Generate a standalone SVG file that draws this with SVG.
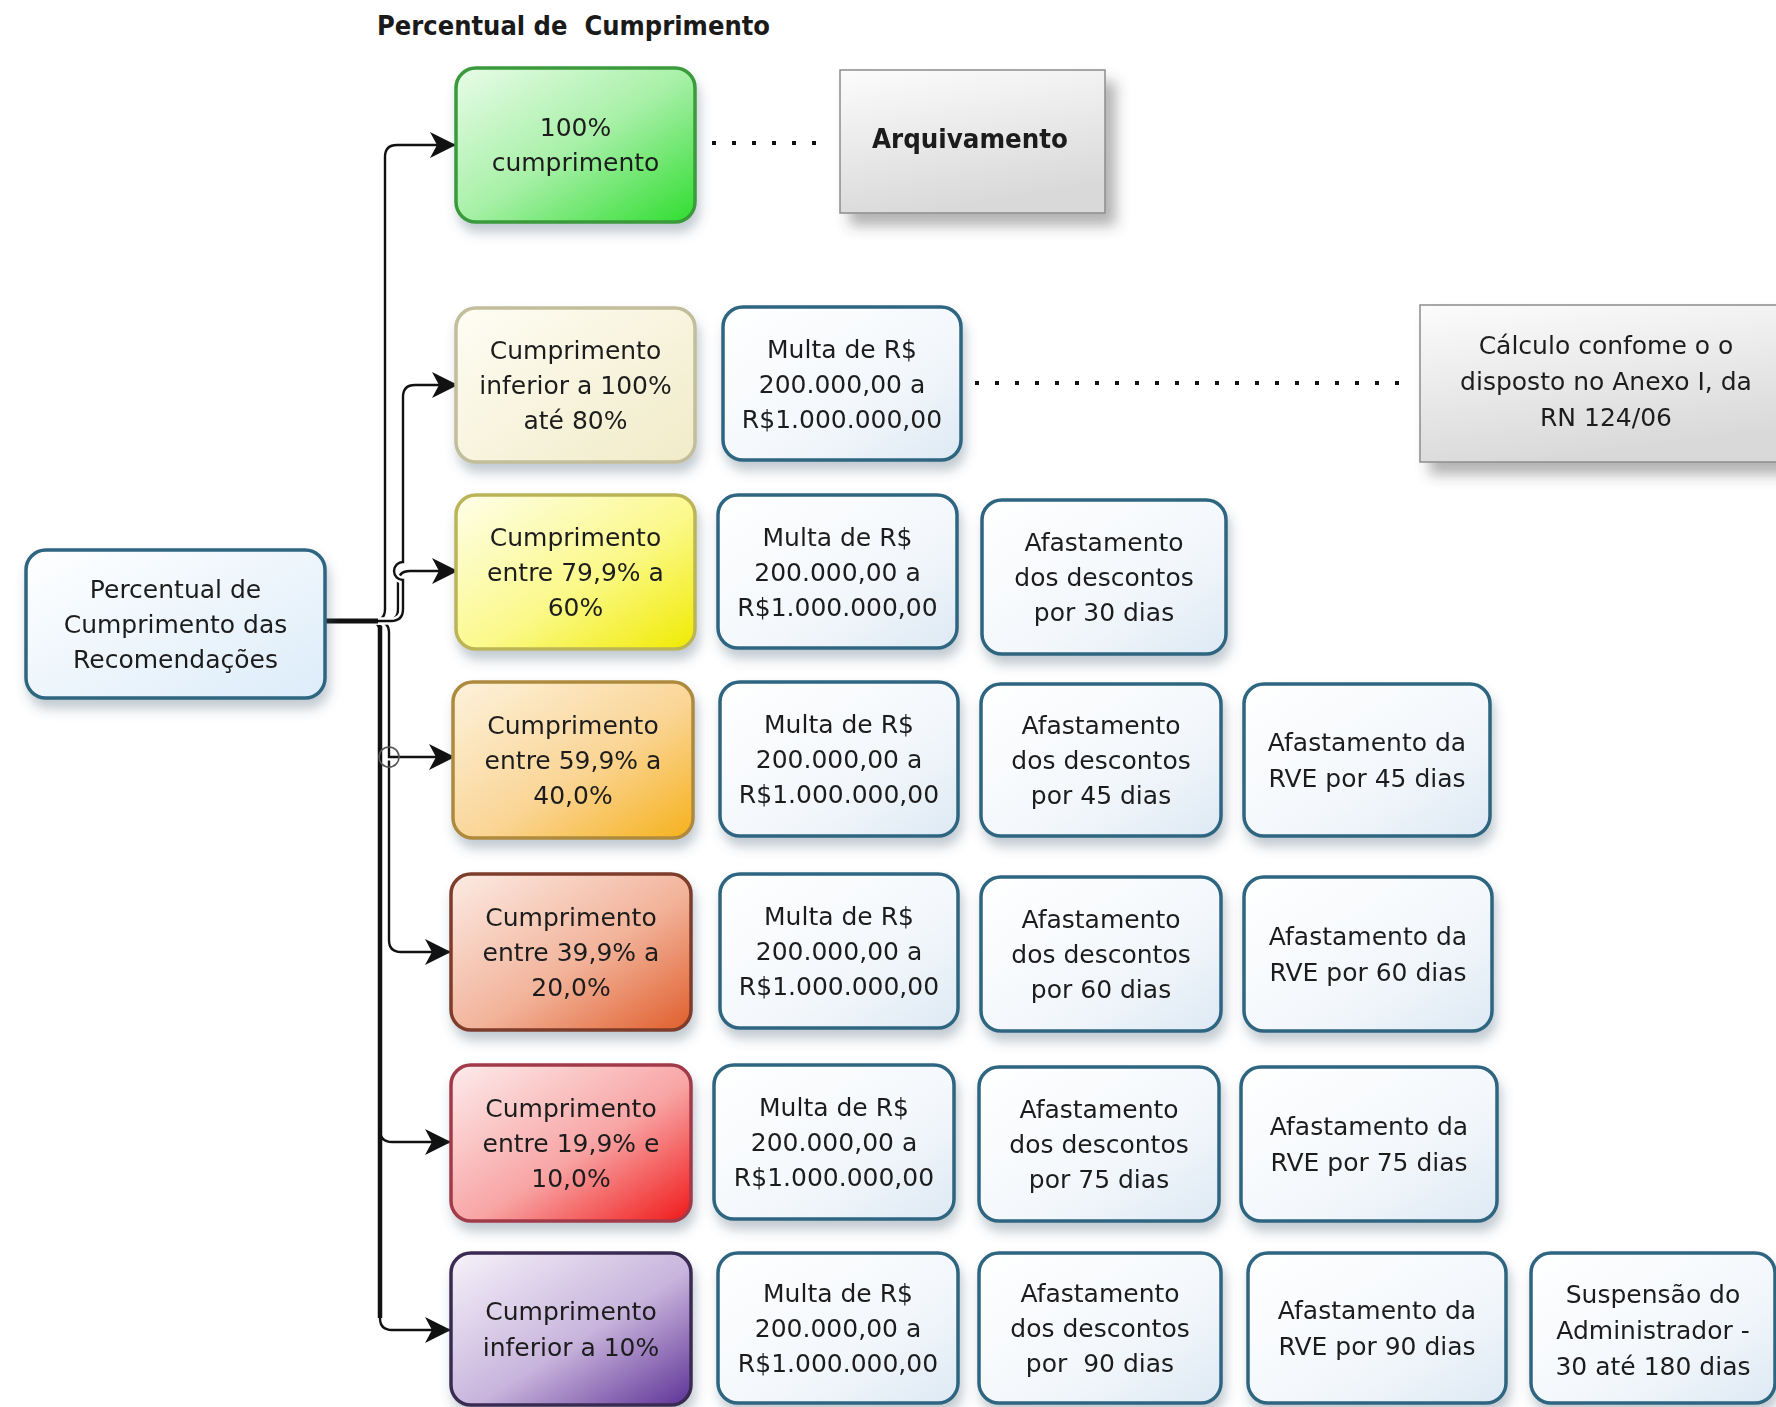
<svg xmlns="http://www.w3.org/2000/svg" width="1776" height="1407" viewBox="0 0 1776 1407">
  <defs>
    <style>
      .t { font-family: "DejaVu Sans", "Liberation Sans", sans-serif; font-size: 25px; fill: #1e1e1e; text-anchor: middle; }
      .tb { font-family: "DejaVu Sans", "Liberation Sans", sans-serif; font-weight: bold; font-size: 26px; fill: #1a1a1a; }
      .pen { fill: url(#gPen); stroke: #2e6580; stroke-width: 3.5; }
      .lvl { stroke-width: 3.5; }
      .note { fill: url(#gGray); stroke: #8c8c8c; stroke-width: 1.5; }
      .halo { fill: none; stroke: #ffffff; stroke-width: 7; }
      .wire { fill: none; stroke: #111111; stroke-width: 2.4; }
      .dots { fill: none; stroke: #111111; stroke-width: 4; stroke-dasharray: 4 16; }
    </style>
    <linearGradient id="gPen" x1="0" y1="0" x2="1" y2="1">
      <stop offset="0" stop-color="#ffffff"/>
      <stop offset="0.6" stop-color="#f3f7fb"/>
      <stop offset="1" stop-color="#dde9f4"/>
    </linearGradient>
    <linearGradient id="gSrc" x1="0" y1="0" x2="1" y2="1">
      <stop offset="0" stop-color="#ffffff"/>
      <stop offset="1" stop-color="#dcecf9"/>
    </linearGradient>
    <linearGradient id="gGray" x1="0" y1="0" x2="0.3" y2="1">
      <stop offset="0" stop-color="#fcfcfc"/>
      <stop offset="1" stop-color="#d9d9d9"/>
    </linearGradient>
    <linearGradient id="gGreen" x1="0" y1="0" x2="1" y2="1">
      <stop offset="0" stop-color="#e8fce8"/>
      <stop offset="0.5" stop-color="#a8f0a8"/>
      <stop offset="1" stop-color="#30dd30"/>
    </linearGradient>
    <linearGradient id="gCream" x1="0" y1="0" x2="1" y2="1">
      <stop offset="0" stop-color="#fefdf4"/>
      <stop offset="1" stop-color="#f1ebc8"/>
    </linearGradient>
    <linearGradient id="gYellow" x1="0" y1="0" x2="1" y2="1">
      <stop offset="0" stop-color="#fefeea"/>
      <stop offset="0.55" stop-color="#fbf98a"/>
      <stop offset="1" stop-color="#f0ea00"/>
    </linearGradient>
    <linearGradient id="gOrange" x1="0" y1="0" x2="1" y2="1">
      <stop offset="0" stop-color="#fdf2dc"/>
      <stop offset="0.55" stop-color="#fad596"/>
      <stop offset="1" stop-color="#f6b11c"/>
    </linearGradient>
    <linearGradient id="gRust" x1="0" y1="0" x2="1" y2="1">
      <stop offset="0" stop-color="#fcebe4"/>
      <stop offset="0.55" stop-color="#f2b39a"/>
      <stop offset="1" stop-color="#e05e2c"/>
    </linearGradient>
    <linearGradient id="gRed" x1="0" y1="0" x2="1" y2="1">
      <stop offset="0" stop-color="#fdecec"/>
      <stop offset="0.55" stop-color="#f8a4a4"/>
      <stop offset="1" stop-color="#f01818"/>
    </linearGradient>
    <linearGradient id="gPurple" x1="0" y1="0" x2="1" y2="1">
      <stop offset="0" stop-color="#f6f2fa"/>
      <stop offset="0.55" stop-color="#c8b4dc"/>
      <stop offset="1" stop-color="#5e3296"/>
    </linearGradient>
    <filter id="sh" x="-10%" y="-10%" width="130%" height="140%">
      <feGaussianBlur in="SourceAlpha" stdDeviation="6"/>
      <feOffset dx="3" dy="9" result="b"/>
      <feFlood flood-color="#50687c" flood-opacity="0.35"/>
      <feComposite in2="b" operator="in"/>
      <feMerge><feMergeNode/><feMergeNode in="SourceGraphic"/></feMerge>
    </filter>
    <filter id="shBig" x="-10%" y="-10%" width="130%" height="150%">
      <feGaussianBlur in="SourceAlpha" stdDeviation="7"/>
      <feOffset dx="10" dy="12" result="b"/>
      <feFlood flood-color="#404040" flood-opacity="0.4"/>
      <feComposite in2="b" operator="in"/>
      <feMerge><feMergeNode/><feMergeNode in="SourceGraphic"/></feMerge>
    </filter>
    <marker id="arr" viewBox="0 0 26 26" refX="26" refY="13" markerWidth="26" markerHeight="26" markerUnits="userSpaceOnUse" orient="auto">
      <path d="M0,0 L26,13 L0,26 L7,13 Z" fill="#111111"/>
    </marker>
  </defs>

  <rect x="0" y="0" width="1776" height="1407" fill="#ffffff"/>

  <!-- heading -->
  <text class="tb" x="377" y="35" textLength="393" lengthAdjust="spacingAndGlyphs" xml:space="preserve">Percentual de  Cumprimento</text>

  <!-- connectors: source to each compliance level, plus dotted notes -->
  <g id="connectors">
    <line x1="325" y1="621" x2="380" y2="621" stroke="#111111" stroke-width="5"/>
    <path class="halo" d="M325,621 H373 Q385,621 385,609 V157 Q385,145 397,145 H456"/>
    <path class="wire" marker-end="url(#arr)" d="M325,621 H373 Q385,621 385,609 V157 Q385,145 397,145 H456"/>
    <path class="halo" d="M325,621 H368 Q380,621 380,633 V1318 Q380,1330 392,1330 H451"/>
    <path class="wire" marker-end="url(#arr)" d="M325,621 H368 Q380,621 380,633 V1318 Q380,1330 392,1330 H451"/>
    <path class="halo" d="M325,621 H368 Q380,621 380,633 V1130 Q380,1142 392,1142 H451"/>
    <path class="wire" marker-end="url(#arr)" d="M325,621 H368 Q380,621 380,633 V1130 Q380,1142 392,1142 H451"/>
    <line x1="380" y1="621" x2="380" y2="1318" stroke="#111111" stroke-width="4.5"/>
    <path class="halo" d="M325,621 H377 Q389,621 389,633 V940 Q389,952 401,952 H451"/>
    <path class="wire" marker-end="url(#arr)" d="M325,621 H377 Q389,621 389,633 V940 Q389,952 401,952 H451"/>
    <path class="halo" d="M389,700 V757 H455"/>
    <path class="wire" marker-end="url(#arr)" d="M389,700 V757 H455"/>
    <circle cx="389" cy="757" r="10" fill="none" stroke="#555555" stroke-width="1.6"/>
    <path class="halo" d="M325,621 H386 Q398,621 398,609 V583 Q398,571 410,571 H458"/>
    <path class="wire" marker-end="url(#arr)" d="M325,621 H386 Q398,621 398,609 V583 Q398,571 410,571 H458"/>
    <path class="halo" d="M325,621 H391 Q403,621 403,609 V580 A9,9 0 0 1 403,562 V397 Q403,385 415,385 H458"/>
    <path class="wire" marker-end="url(#arr)" d="M325,621 H391 Q403,621 403,609 V580 A9,9 0 0 1 403,562 V397 Q403,385 415,385 H458"/>
    <line x1="325" y1="621" x2="378" y2="621" stroke="#111111" stroke-width="5"/>
    <line class="dots" x1="712" y1="143" x2="826" y2="143"/>
    <line class="dots" x1="975" y1="383" x2="1414" y2="383"/>
  </g>

  <!-- source -->
  <g id="source" filter="url(#sh)">
    <rect x="26" y="550" width="299" height="148" rx="20" fill="url(#gSrc)" stroke="#2e6580" stroke-width="3.5"/>
    <text class="t" x="175.5"><tspan x="175.5" y="598">Percentual de</tspan><tspan x="175.5" y="633">Cumprimento das</tspan><tspan x="175.5" y="668">Recomendações</tspan></text>
  </g>

  <!-- row 0 -->
  <g id="level-100" filter="url(#sh)">
    <rect class="lvl" x="456" y="68" width="239" height="154" rx="20" fill="url(#gGreen)" stroke="#3a9a3a"/>
    <text class="t"><tspan x="575.5" y="136">100%</tspan><tspan x="575.5" y="171">cumprimento</tspan></text>
  </g>
  <g id="arquivamento" filter="url(#shBig)">
    <rect class="note" x="840" y="70" width="265" height="143"/>
    <text class="tb" x="872" y="148" textLength="196" lengthAdjust="spacingAndGlyphs">Arquivamento</text>
  </g>

  <!-- row 1 -->
  <g id="level-80" filter="url(#sh)">
    <rect class="lvl" x="456" y="308" width="239" height="154" rx="20" fill="url(#gCream)" stroke="#c2bd9a"/>
    <text class="t"><tspan x="575.5" y="359">Cumprimento</tspan><tspan x="575.5" y="394">inferior a 100%</tspan><tspan x="575.5" y="429">até 80%</tspan></text>
  </g>
  <g id="multa-1" filter="url(#sh)">
    <rect class="pen" x="723" y="307" width="238" height="153" rx="20"/>
    <text class="t"><tspan x="842" y="358">Multa de R$</tspan><tspan x="842" y="393">200.000,00 a</tspan><tspan x="842" y="428">R$1.000.000,00</tspan></text>
  </g>
  <g id="calculo" filter="url(#shBig)">
    <rect class="note" x="1420" y="305" width="370" height="157"/>
    <text class="t"><tspan x="1606" y="354">Cálculo confome o o</tspan><tspan x="1606" y="390">disposto no Anexo I, da</tspan><tspan x="1606" y="426">RN 124/06</tspan></text>
  </g>

  <!-- row 2 -->
  <g id="level-60" filter="url(#sh)">
    <rect class="lvl" x="456" y="495" width="239" height="154" rx="20" fill="url(#gYellow)" stroke="#bbb558"/>
    <text class="t"><tspan x="575.5" y="546">Cumprimento</tspan><tspan x="575.5" y="581">entre 79,9% a</tspan><tspan x="575.5" y="616">60%</tspan></text>
  </g>
  <g id="multa-2" filter="url(#sh)">
    <rect class="pen" x="718" y="495" width="239" height="153" rx="20"/>
    <text class="t"><tspan x="837.5" y="546">Multa de R$</tspan><tspan x="837.5" y="581">200.000,00 a</tspan><tspan x="837.5" y="616">R$1.000.000,00</tspan></text>
  </g>
  <g id="desc-30" filter="url(#sh)">
    <rect class="pen" x="982" y="500" width="244" height="154" rx="20"/>
    <text class="t"><tspan x="1104" y="551">Afastamento</tspan><tspan x="1104" y="586">dos descontos</tspan><tspan x="1104" y="621">por 30 dias</tspan></text>
  </g>

  <!-- row 3 -->
  <g id="level-40" filter="url(#sh)">
    <rect class="lvl" x="453" y="682" width="240" height="156" rx="20" fill="url(#gOrange)" stroke="#ad8a3c"/>
    <text class="t"><tspan x="573" y="734">Cumprimento</tspan><tspan x="573" y="769">entre 59,9% a</tspan><tspan x="573" y="804">40,0%</tspan></text>
  </g>
  <g id="multa-3" filter="url(#sh)">
    <rect class="pen" x="720" y="682" width="238" height="154" rx="20"/>
    <text class="t"><tspan x="839" y="733">Multa de R$</tspan><tspan x="839" y="768">200.000,00 a</tspan><tspan x="839" y="803">R$1.000.000,00</tspan></text>
  </g>
  <g id="desc-45" filter="url(#sh)">
    <rect class="pen" x="981" y="684" width="240" height="152" rx="20"/>
    <text class="t"><tspan x="1101" y="734">Afastamento</tspan><tspan x="1101" y="769">dos descontos</tspan><tspan x="1101" y="804">por 45 dias</tspan></text>
  </g>
  <g id="rve-45" filter="url(#sh)">
    <rect class="pen" x="1244" y="684" width="246" height="152" rx="20"/>
    <text class="t"><tspan x="1367" y="751">Afastamento da</tspan><tspan x="1367" y="787">RVE por 45 dias</tspan></text>
  </g>

  <!-- row 4 -->
  <g id="level-20" filter="url(#sh)">
    <rect class="lvl" x="451" y="874" width="240" height="156" rx="20" fill="url(#gRust)" stroke="#7e3d2c"/>
    <text class="t"><tspan x="571" y="926">Cumprimento</tspan><tspan x="571" y="961">entre 39,9% a</tspan><tspan x="571" y="996">20,0%</tspan></text>
  </g>
  <g id="multa-4" filter="url(#sh)">
    <rect class="pen" x="720" y="874" width="238" height="154" rx="20"/>
    <text class="t"><tspan x="839" y="925">Multa de R$</tspan><tspan x="839" y="960">200.000,00 a</tspan><tspan x="839" y="995">R$1.000.000,00</tspan></text>
  </g>
  <g id="desc-60" filter="url(#sh)">
    <rect class="pen" x="981" y="877" width="240" height="154" rx="20"/>
    <text class="t"><tspan x="1101" y="928">Afastamento</tspan><tspan x="1101" y="963">dos descontos</tspan><tspan x="1101" y="998">por 60 dias</tspan></text>
  </g>
  <g id="rve-60" filter="url(#sh)">
    <rect class="pen" x="1244" y="877" width="248" height="154" rx="20"/>
    <text class="t"><tspan x="1368" y="945">Afastamento da</tspan><tspan x="1368" y="981">RVE por 60 dias</tspan></text>
  </g>

  <!-- row 5 -->
  <g id="level-10" filter="url(#sh)">
    <rect class="lvl" x="451" y="1065" width="240" height="156" rx="20" fill="url(#gRed)" stroke="#a23a48"/>
    <text class="t"><tspan x="571" y="1117">Cumprimento</tspan><tspan x="571" y="1152">entre 19,9% e</tspan><tspan x="571" y="1187">10,0%</tspan></text>
  </g>
  <g id="multa-5" filter="url(#sh)">
    <rect class="pen" x="714" y="1065" width="240" height="154" rx="20"/>
    <text class="t"><tspan x="834" y="1116">Multa de R$</tspan><tspan x="834" y="1151">200.000,00 a</tspan><tspan x="834" y="1186">R$1.000.000,00</tspan></text>
  </g>
  <g id="desc-75" filter="url(#sh)">
    <rect class="pen" x="979" y="1067" width="240" height="154" rx="20"/>
    <text class="t"><tspan x="1099" y="1118">Afastamento</tspan><tspan x="1099" y="1153">dos descontos</tspan><tspan x="1099" y="1188">por 75 dias</tspan></text>
  </g>
  <g id="rve-75" filter="url(#sh)">
    <rect class="pen" x="1241" y="1067" width="256" height="154" rx="20"/>
    <text class="t"><tspan x="1369" y="1135">Afastamento da</tspan><tspan x="1369" y="1171">RVE por 75 dias</tspan></text>
  </g>

  <!-- row 6 -->
  <g id="level-0" filter="url(#sh)">
    <rect class="lvl" x="451" y="1253" width="240" height="152" rx="20" fill="url(#gPurple)" stroke="#3a2c52"/>
    <text class="t"><tspan x="571" y="1320">Cumprimento</tspan><tspan x="571" y="1356">inferior a 10%</tspan></text>
  </g>
  <g id="multa-6" filter="url(#sh)">
    <rect class="pen" x="718" y="1253" width="240" height="150" rx="20"/>
    <text class="t"><tspan x="838" y="1302">Multa de R$</tspan><tspan x="838" y="1337">200.000,00 a</tspan><tspan x="838" y="1372">R$1.000.000,00</tspan></text>
  </g>
  <g id="desc-90" filter="url(#sh)">
    <rect class="pen" x="979" y="1253" width="242" height="150" rx="20"/>
    <text class="t" xml:space="preserve"><tspan x="1100" y="1302">Afastamento</tspan><tspan x="1100" y="1337">dos descontos</tspan><tspan x="1100" y="1372">por  90 dias</tspan></text>
  </g>
  <g id="rve-90" filter="url(#sh)">
    <rect class="pen" x="1248" y="1253" width="258" height="150" rx="20"/>
    <text class="t"><tspan x="1377" y="1319">Afastamento da</tspan><tspan x="1377" y="1355">RVE por 90 dias</tspan></text>
  </g>
  <g id="suspensao" filter="url(#sh)">
    <rect class="pen" x="1531" y="1253" width="244" height="150" rx="20"/>
    <text class="t"><tspan x="1653" y="1303">Suspensão do</tspan><tspan x="1653" y="1339">Administrador -</tspan><tspan x="1653" y="1375">30 até 180 dias</tspan></text>
  </g>
</svg>
